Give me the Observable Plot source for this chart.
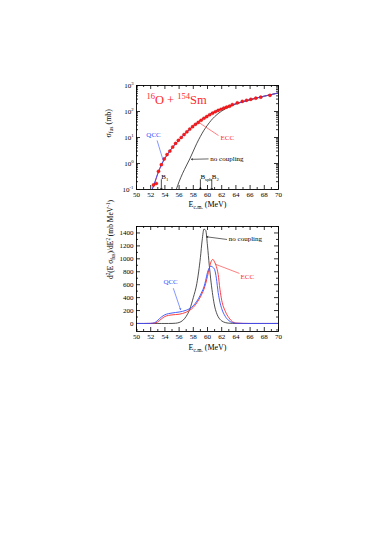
<!DOCTYPE html>
<html><head><meta charset="utf-8">
<script src="https://cdn.jsdelivr.net/npm/d3@7"></script>
<script src="https://cdn.jsdelivr.net/npm/@observablehq/plot@0.6"></script>
<style>
body{margin:0;background:#fff;}
#wrap{position:relative;width:382px;height:539px;overflow:hidden;}
#wrap svg{position:absolute;left:0;}
</style></head><body><div id="wrap"></div>
<script>
// ---------- top panel data ----------
const expE = [52.4,52.8,53.1,53.5,53.9,54.3,54.7,55.1,55.5,55.9,56.3,56.7,57.1,57.5,57.9,58.3,58.7,59.1,59.5,59.9,60.3,60.7,61.1,61.5,61.9,62.3,62.7,63.1,63.5,64.2,64.9,65.5,66.1,66.8,67.5,68.8];
const expSigma = [0.15,0.17,0.5,0.9,1.5,2.2,3.0,4.3,5.9,7.8,10,13,16.5,21,26,32,38,46,55,64,75,86,98,110,122,135,148,160,185,215,245,270,295,325,355,420];
const coupE = [52.2,52.6,53,53.5,54,54.5,55,55.5,56,56.5,57,57.5,58,58.5,59,59.5,60,60.5,61,61.5,62,63,64,65,66,67,68,69,70];
const qccSigma = [0.1,0.2,0.42,0.9,1.6,2.6,4,5.8,8.2,11.5,16,21,28,36,46,57,69,83,98,113,128,162,200,240,285,335,390,450,520];
const eccSigma = [0.1,0.19,0.4,0.86,1.55,2.5,3.9,5.6,8,11.2,15.6,20.5,27.5,35.5,45.5,56.5,68.5,82.5,97.5,112.5,128,162,200,240,285,335,390,450,520];
const noCoupE = [55.6,56,56.5,57,57.5,58,58.5,59,59.5,60,60.5,61,61.5,62,63,64,65,66,67,68,69,70];
const noCoupSigma = [0.1,0.2,0.42,0.8,1.5,3,6,11,19,30,45,63,83,104,150,193,238,283,333,388,448,515];
const barrierNames = ["B_{1}","B_{sph}","B_{2}"];
const barrierE = [53.5,59.0,60.6];
const xTicks = [50,52,54,56,58,60,62,64,66,68,70];
const logTicks = [0.1,1,10,100,1000];
const logTickLabels = ["10^{-1}","10^{0}","10^{1}","10^{2}","10^{3}"];

// ---------- bottom panel data ----------
const dE = [50,51,52,52.5,53,53.5,54,54.5,55,55.5,56,56.5,57,57.5,58,58.5,59,59.25,59.5,59.75,60,60.25,60.5,60.75,61,61.25,61.5,61.75,62,62.5,63,63.5,64,65,66,67,68,69,70];
const dNoCoup = [0,0,0,0,0,0,0,0,1,4,15,45,110,220,400,620,1020,1290,1460,1440,1200,900,640,430,270,170,105,65,40,14,5,2,0,0,0,0,0,0,0];
const dQCC = [0,0,2,10,50,100,135,152,162,170,177,188,205,230,275,345,440,500,565,670,790,860,885,870,835,700,480,330,230,110,45,15,4,1,0,0,0,0,0];
const dECC = [0,0,1,5,25,70,108,125,133,138,143,155,175,205,250,320,410,465,530,620,730,850,955,990,950,880,760,530,360,190,90,28,6,1,0,0,0,0,0];
const dYTicks = [0,200,400,600,800,1000,1200,1400];

const FONT = "Liberation Serif, Times New Roman, serif";
const wrap = document.getElementById("wrap");

function range(a,b,s){const r=[];for(let v=a;v<=b+1e-9;v+=s)r.push(+v.toFixed(6));return r;}
const xMinor = range(51,69,2);
const logMinor = [];
for (const d of [0.1,1,10,100]) for (let k=2;k<=9;k++) logMinor.push(k*d);
const dYMinor = range(-100,1500,200).filter(v=>v>=-120);

function richify(svg){
  d3.select(svg).selectAll("text").each(function(){
    const s = this.textContent;
    if (!/[_^]\{/.test(s)) return;
    const fs = parseFloat(getComputedStyle(this).fontSize) || 8;
    this.textContent = "";
    let off = 0;
    for (const m of s.matchAll(/([_^])\{([^}]*)\}|([^_^]+)/g)) {
      const t = document.createElementNS("http://www.w3.org/2000/svg","tspan");
      let target;
      if (m[3] !== undefined) { target = 0; t.textContent = m[3]; }
      else { target = m[1] === "_" ? 0.28*fs : -0.42*fs; t.textContent = m[2]; t.setAttribute("font-size", (0.68*fs).toFixed(2)); }
      const dy = target - off;
      if (Math.abs(dy) > 1e-6) t.setAttribute("dy", dy.toFixed(2));
      off = target;
      this.appendChild(t);
    }
  });
}

function frameTicks(fw, fh, xMaj, xMin, yMaj, yMin){
  const L=4, l=2;
  return [
    Plot.tickX(xMaj, {x: d=>d, insetTop: fh-L, stroke:"black", strokeWidth:0.8}),
    Plot.tickX(xMaj, {x: d=>d, insetBottom: fh-L, stroke:"black", strokeWidth:0.8}),
    Plot.tickX(xMin, {x: d=>d, insetTop: fh-l, stroke:"black", strokeWidth:0.8}),
    Plot.tickX(xMin, {x: d=>d, insetBottom: fh-l, stroke:"black", strokeWidth:0.8}),
    Plot.tickY(yMaj, {y: d=>d, insetRight: fw-L, stroke:"black", strokeWidth:0.8}),
    Plot.tickY(yMaj, {y: d=>d, insetLeft: fw-L, stroke:"black", strokeWidth:0.8}),
    Plot.tickY(yMin, {y: d=>d, insetRight: fw-l, stroke:"black", strokeWidth:0.8}),
    Plot.tickY(yMin, {y: d=>d, insetLeft: fw-l, stroke:"black", strokeWidth:0.8})
  ];
}

const ML=136, MR=104, FW=382-ML-MR;

// ---------- top panel ----------
const topH=230, topMT=85, topMB=41, topFH=topH-topMT-topMB;
const expData = expE.map((e,i)=>({e, s:expSigma[i]}));
const qccData = coupE.map((e,i)=>({e, s:qccSigma[i]}));
const eccData = coupE.map((e,i)=>({e, s:eccSigma[i]}));
const ncData = noCoupE.map((e,i)=>({e, s:noCoupSigma[i]}));
const barData = barrierE.map((e,i)=>({e, name:barrierNames[i]}));

const topPlot = Plot.plot({
  width:382, height:topH, marginLeft:ML, marginRight:MR, marginTop:topMT, marginBottom:topMB,
  style:{fontFamily:FONT, fontSize:"7px", background:"transparent"},
  x:{domain:[50,70]},
  y:{type:"log", domain:[0.1,1000]},
  marks:[
    ...frameTicks(FW, topFH, xTicks, xMinor, logTicks, logMinor),
    Plot.axisX({ticks:xTicks, tickSize:0, tickPadding:3, label:null, fontSize:7}),
    Plot.axisY({ticks:logTicks, tickSize:0, tickPadding:3, label:null, fontSize:7, tickFormat:(d)=>logTickLabels[logTicks.indexOf(d)]}),
    Plot.line(ncData, {x:"e", y:"s", stroke:"#222", strokeWidth:0.8, curve:"monotone-x", clip:true}),
    Plot.line(eccData, {x:"e", y:"s", stroke:"#ff2a2a", strokeWidth:0.9, curve:"monotone-x", clip:true}),
    Plot.line(qccData, {x:"e", y:"s", stroke:"#3050ff", strokeWidth:0.9, curve:"monotone-x", clip:true}),
    Plot.dot(expData, {x:"e", y:"s", r:1.6, fill:"#ff1a1a", stroke:"#c00000", strokeWidth:0.3}),
    Plot.arrow(barData, {x1:"e", x2:"e", y1:0.24, y2:0.1, stroke:"black", strokeWidth:0.7, headLength:3, insetEnd:0}),
    Plot.text(barData, {x:"e", y:0.3, text:"name", textAnchor:"start", dx:0, fontSize:7, fill:"black"}),
    Plot.text(["^{16}O + ^{154}Sm"], {x:51.4, y:270, textAnchor:"start", fontSize:12.5, fill:"#ff2a2a"}),
    Plot.text(["QCC"], {x:52.4, y:13, fontSize:7, fill:"#3050ff"}),
    Plot.link([0], {x1:52.9, y1:7.7, x2:53.8, y2:1.2, stroke:"#3050ff", strokeWidth:0.6}),
    Plot.text(["ECC"], {x:62.8, y:10, fontSize:7, fill:"#ff2a2a"}),
    Plot.link([0], {x1:61.55, y1:11.9, x2:58.9, y2:36, stroke:"#ff2a2a", strokeWidth:0.6}),
    Plot.text(["no coupling"], {x:60.4, y:1.5, textAnchor:"start", fontSize:7, fill:"black"}),
    Plot.arrow([0], {x1:60.1, y1:1.5, x2:57.75, y2:1.45, stroke:"black", strokeWidth:0.6, headLength:3}),
    Plot.text(["E_{c.m.} (MeV)"], {frameAnchor:"bottom", dy:17, fontSize:8, fill:"black"}),
    Plot.text(["σ_{fus} (mb)"], {frameAnchor:"left", dx:-28, rotate:-90, fontSize:8, fill:"black"}),
    Plot.frame({stroke:"black", strokeWidth:0.9})
  ]
});
topPlot.style.top = "0px";
wrap.appendChild(topPlot);
richify(topPlot);

// ---------- bottom panel ----------
const botTop=200, botH=180, botMT=26, botMB=49, botFH=botH-botMT-botMB;
const dNC = dE.map((e,i)=>({e, v:dNoCoup[i]}));
const dQ = dE.map((e,i)=>({e, v:dQCC[i]}));
const dEc = dE.map((e,i)=>({e, v:dECC[i]}));

const botPlot = Plot.plot({
  width:382, height:botH, marginLeft:ML, marginRight:MR, marginTop:botMT, marginBottom:botMB,
  style:{fontFamily:FONT, fontSize:"7px", background:"transparent"},
  x:{domain:[50,70]},
  y:{domain:[-124,1500]},
  marks:[
    ...frameTicks(FW, botFH, xTicks, xMinor, dYTicks, dYMinor),
    Plot.axisX({ticks:xTicks, tickSize:0, tickPadding:3, label:null, fontSize:7}),
    Plot.axisY({ticks:dYTicks, tickSize:0, tickPadding:3, label:null, fontSize:7, tickFormat:d=>String(d)}),
    Plot.line(dNC, {x:"e", y:"v", stroke:"#222", strokeWidth:0.8, curve:"monotone-x"}),
    Plot.line(dEc, {x:"e", y:"v", stroke:"#ff2a2a", strokeWidth:0.9, curve:"monotone-x"}),
    Plot.line(dQ, {x:"e", y:"v", stroke:"#3050ff", strokeWidth:0.9, curve:"monotone-x"}),
    Plot.text(["no coupling"], {x:63.0, y:1311, textAnchor:"start", fontSize:7, fill:"black"}),
    Plot.arrow([0], {x1:62.7, y1:1300, x2:59.9, y2:1340, stroke:"black", strokeWidth:0.6, headLength:3}),
    Plot.text(["QCC"], {x:54.8, y:639, fontSize:7, fill:"#3050ff"}),
    Plot.arrow([0], {x1:55.2, y1:540, x2:56.2, y2:215, stroke:"#3050ff", strokeWidth:0.6, headLength:3}),
    Plot.text(["ECC"], {x:65.6, y:717, fontSize:7, fill:"#ff2a2a"}),
    Plot.link([0], {x1:64.5, y1:774, x2:61.15, y2:915, stroke:"#ff2a2a", strokeWidth:0.6}),
    Plot.text(["E_{c.m.} (MeV)"], {frameAnchor:"bottom", dy:18, fontSize:8, fill:"black"}),
    Plot.text(["d^{2}(E σ_{fus})/dE^{2} (mb MeV^{-1})"], {frameAnchor:"left", dx:-26, rotate:-90, fontSize:7.5, fill:"black"}),
    Plot.frame({stroke:"black", strokeWidth:0.9})
  ]
});
botPlot.style.top = botTop + "px";
wrap.appendChild(botPlot);
richify(botPlot);
</script></body></html>
